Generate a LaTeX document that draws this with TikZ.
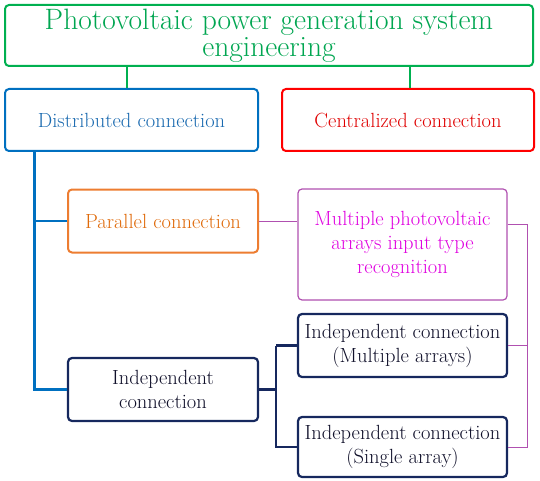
\documentclass[tikz,border=0pt]{standalone}
\usepackage{fontspec}
\definecolor{gbd}{HTML}{00B050}
\definecolor{gtx}{HTML}{00A651}
\definecolor{bbd}{HTML}{0070C0}
\definecolor{btx}{HTML}{1A6AB0}
\definecolor{rbd}{HTML}{FF0000}
\definecolor{rtx}{HTML}{E00000}
\definecolor{obd}{HTML}{ED7D31}
\definecolor{otx}{HTML}{E06A0A}
\definecolor{pbd}{HTML}{B050B0}
\definecolor{ptx}{HTML}{E000E0}
\definecolor{nbd}{HTML}{16285E}
\definecolor{ntx}{HTML}{10102A}
\tikzset{
  box/.style={draw, rounded corners=4pt, line width=2pt, align=center, inner sep=0pt, fill=white,
    font=\rmfamily\fontsize{20.5}{24}\selectfont},
  topbox/.style={box, draw=gbd, text=gtx, font=\rmfamily\fontsize{29.5}{27}\selectfont},
  distbox/.style={box, draw=bbd, text=btx},
  centbox/.style={box, draw=rbd, text=rtx},
  parbox/.style={box, draw=obd, text=otx},
  multbox/.style={box, draw=pbd, text=ptx, line width=1.2pt},
  navbox/.style={box, draw=nbd, text=ntx, line width=2.2pt},
  gline/.style={gbd, line width=2pt},
  bline/.style={bbd, line width=2.5pt},
  pline/.style={pbd, line width=1pt},
  nline/.style={nbd, line width=2.5pt},
}
\begin{document}
\begin{tikzpicture}[x=1pt,y=-1pt]
\useasboundingbox (0,0) rectangle (540,481);
\node[topbox, minimum width=528pt, minimum height=61pt] (top) at (269,35.5) {Photovoltaic power generation system\\engineering};
\node[distbox, minimum width=253pt, minimum height=62pt] (dist) at (131.5,120) {Distributed connection};
\node[centbox, minimum width=252pt, minimum height=62pt] (cent) at (408,120) {Centralized connection};
\node[parbox, minimum width=190pt, minimum height=63pt] (par) at (163,221) {Parallel connection};
\node[multbox, minimum width=209pt, minimum height=111pt] (mult) at (402.5,244.5) {Multiple photovoltaic\\arrays input type\\recognition};
\node[navbox, minimum width=190pt, minimum height=63pt] (ind) at (163,389.5) {Independent\\connection};
\node[navbox, minimum width=209pt, minimum height=63pt] (im) at (402.5,345.5) {Independent connection\\(Multiple arrays)};
\node[navbox, minimum width=209pt, minimum height=60pt] (is) at (402.5,447) {Independent connection\\(Single array)};
\coordinate (g1) at (127,0);
\coordinate (g2) at (410,0);
\coordinate (bx) at (34.5,151);
\coordinate (nx) at (276,389.5);
\coordinate (px) at (527,224);
\draw[gline] (top.south -| g1) -- (dist.north -| g1);
\draw[gline] (top.south -| g2) -- (cent.north -| g2);
\draw[bline] (dist.south -| bx) |- (ind.west);
\draw[bline] (bx |- par.west) -- (par.west);
\draw[pline] (par.east) -- (par.east -| mult.west);
\draw[pline] (mult.east |- px) -- (px) |- (is.east);
\draw[pline] (px |- im.east) -- (im.east);
\draw[nline] (ind.east) -- (nx);
\draw[nline] (nx |- im.west) |- (is.west);
\draw[nline] (nx |- im.west) -- (im.west);
\end{tikzpicture}
\end{document}
